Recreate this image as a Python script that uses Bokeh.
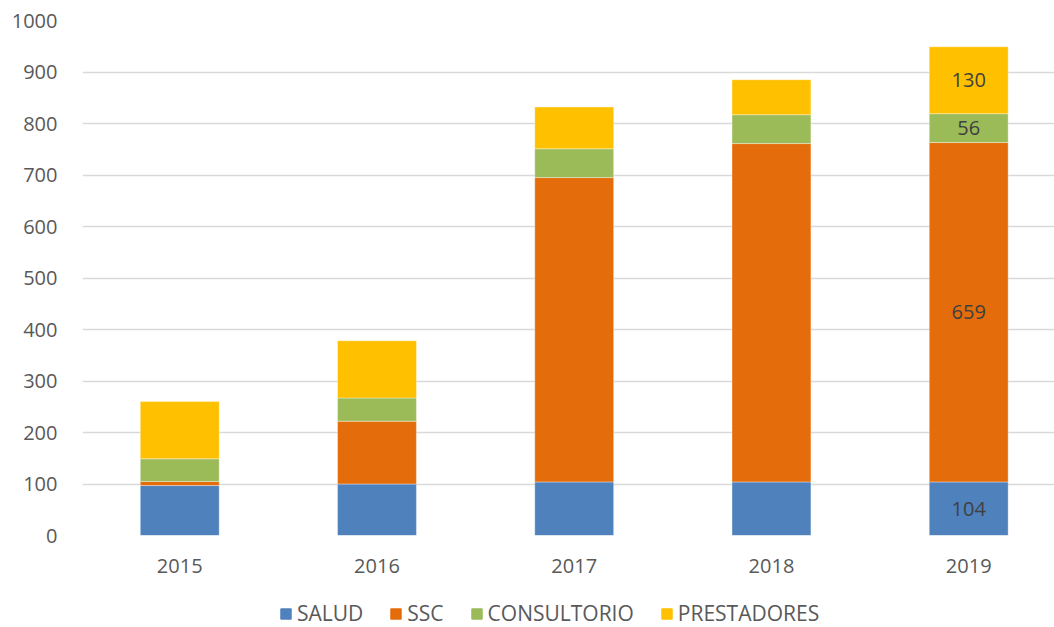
from bokeh.plotting import figure
from bokeh.layouts import column
from bokeh.models import ColumnDataSource, Range1d, FixedTicker, Legend, LegendItem, LabelSet
from bokeh.core.properties import value
from bokeh.embed import file_html
from bokeh.resources import INLINE

years = ["2015", "2016", "2017", "2018", "2019"]
salud = [97, 100, 104, 104, 104]
ssc = [8, 122, 591, 657, 659]
consultorio = [44, 45, 56, 56, 56]
prestadores = [111, 111, 81, 68, 130]

series = ["SALUD", "SSC", "CONSULTORIO", "PRESTADORES"]
colors = ["#4f81bd", "#e46c0a", "#9bbb59", "#ffc000"]
y_ticks = [0, 100, 200, 300, 400, 500, 600, 700, 800, 900, 1000]

FONT = "Open Sans"
TXT = "#595959"

xs = [i + 0.5 for i in range(len(years))]
source = ColumnDataSource(dict(x=xs, SALUD=salud, SSC=ssc, CONSULTORIO=consultorio, PRESTADORES=prestadores))

p = figure(width=1054, height=595, output_backend="svg", toolbar_location=None,
           x_range=Range1d(0.007, 4.935), y_range=Range1d(0, 1000),
           min_border_left=82, min_border_right=0, min_border_top=20, min_border_bottom=60)
p.outline_line_color = None
p.background_fill_color = "white"

renderers = p.vbar_stack(series, x="x", width=0.4, color=colors, source=source,
                         line_color="white", line_width=0.6, line_alpha=0.6)

# data labels for last year
last = len(years) - 1
vals = [salud[last], ssc[last], consultorio[last], prestadores[last]]
mids, base = [], 0
for v in vals:
    mids.append(base + v / 2)
    base += v
lab_src = ColumnDataSource(dict(x=[xs[last]] * 4, y=mids, t=[str(v) for v in vals]))
p.add_layout(LabelSet(x="x", y="y", text="t", source=lab_src, text_align="center",
                      text_baseline="middle", text_font=value(FONT), text_font_size=value("20px"),
                      text_color="#404040"))

# axes
p.xaxis.ticker = FixedTicker(ticks=xs)
p.xaxis.major_label_overrides = {x: y for x, y in zip(xs, years)}
p.yaxis.ticker = FixedTicker(ticks=y_ticks)
for ax in (p.xaxis, p.yaxis):
    ax.axis_line_color = None
    ax.major_tick_line_color = None
    ax.minor_tick_line_color = None
    ax.major_label_text_font = FONT
    ax.major_label_text_font_size = "20px"
    ax.major_label_text_color = TXT
p.xaxis.major_label_standoff = 17
p.yaxis.major_label_standoff = 19

p.xgrid.grid_line_color = None
p.ygrid.grid_line_color = "#d9d9d9"
p.ygrid.grid_line_width = 1.5

# legend strip
lg = figure(width=1054, height=32, output_backend="svg", toolbar_location=None,
            x_axis_type=None, y_axis_type=None, x_range=Range1d(0, 1), y_range=Range1d(0, 1),
            min_border_left=0, min_border_right=0, min_border_top=0, min_border_bottom=0)
lg.outline_line_color = None
lg.xgrid.grid_line_color = None
lg.ygrid.grid_line_color = None
items = []
for s, c in zip(series, colors):
    r = lg.vbar(x=[10], top=[10], width=0.1, color=c)
    items.append(LegendItem(label=s, renderers=[r]))
legend = Legend(items=items, orientation="horizontal", location=(197, 0),
                label_text_font=FONT, label_text_font_size="21px", label_text_color=TXT,
                glyph_width=13, glyph_height=13, spacing=26, label_standoff=5,
                padding=0, margin=0, border_line_color=None, background_fill_alpha=0)
lg.add_layout(legend, "center")

layout = column(p, lg, spacing=0)
open("out.html", "w").write(file_html(layout, INLINE))
